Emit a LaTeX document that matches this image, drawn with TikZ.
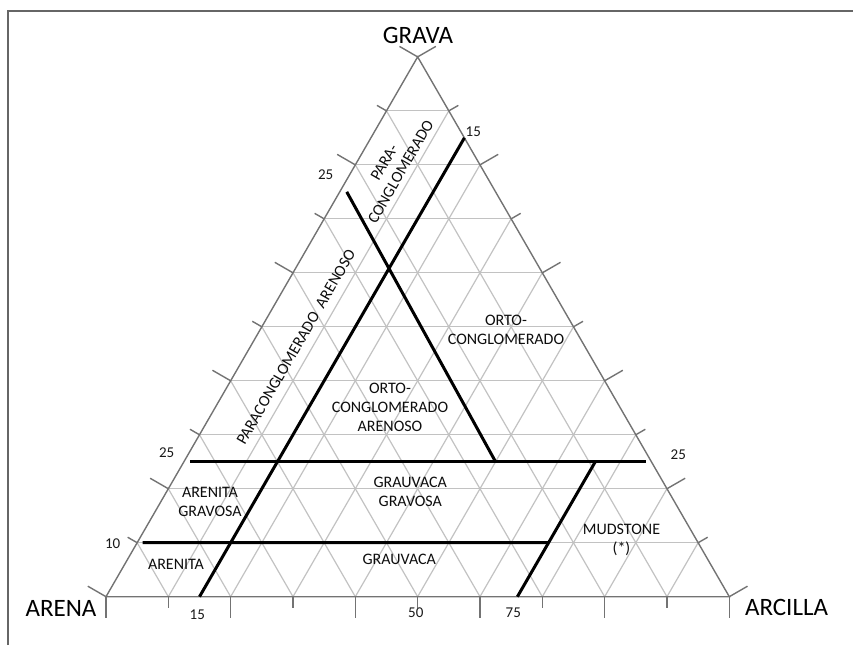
\documentclass[tikz,border=0pt]{standalone}
\usepackage{fontspec}
\setmainfont{Carlito}
\usetikzlibrary{calc}

\begin{document}
\begin{tikzpicture}
    [x=1pt, y=1pt,
    side/.style = {draw=black!55, line width=1.4pt},
    gridline/.style = {draw=black!24, line width=1.2pt},
    tick/.style = {draw=black!55, line width=1.4pt},
    limit/.style = {draw=black, line width=3pt},
    corner/.style = {font=\fontsize{25}{30}\selectfont, text=black},
    value/.style = {font=\fontsize{15}{18}\selectfont, text=black!90},
    field/.style = {font=\fontsize{16}{19}\selectfont, text=black!95, align=center}
    ]
    \useasboundingbox (0,0) rectangle (853,645);
    \draw [draw=black!60, line width=2pt] (7.7,0) -- (7.7,634.3) -- (853,634.3);

    \coordinate (A) at (106,48.3);
    \coordinate (B) at (729.3,48.3);
    \coordinate (C) at (417.65,588.1);

    \foreach \i in {1,...,9} {
        \draw [gridline] ($(A)!\i/10!(C)$) -- ($(B)!\i/10!(C)$);
        \draw [gridline] ($(A)!\i/10!(B)$) -- ($(B)!1-\i/10!(C)$);
        \draw [gridline] ($(A)!\i/10!(B)$) -- ($(A)!\i/10!(C)$);
    }
    \foreach \i [evaluate=\i as \len using {ifthenelse(mod(\i,2)==0,21,11)}] in {0,...,10} {
        \draw [tick] ($(A)!\i/10!(B)$) -- ++(0,-\len);
        \draw [tick] ($(A)!\i/10!(C)$) -- ++(150:\len);
        \draw [tick] ($(B)!\i/10!(C)$) -- ++(30:\len);
    }
    \draw [side] (A) -- (B) -- (C) -- cycle;

    \coordinate (ac10) at ($(A)!0.10!(C)$);
    \coordinate (ac25) at ($(A)!0.25!(C)$);
    \coordinate (bc25) at ($(B)!0.25!(C)$);
    \coordinate (ac75) at ($(A)!0.75!(C)$);
    \coordinate (ab15) at ($(A)!0.15!(B)$);
    \coordinate (ab66) at ($(A)!0.66!(B)$);
    \coordinate (ab75) at ($(A)!0.75!(B)$);
    \coordinate (bc85) at ($(B)!0.85!(C)$);
    \coordinate (ortoend) at ($(ac75)!2/3!(ab75)$);
    \coordinate (mud25) at ($(ac25)!0.88!(bc25)$);
    \coordinate (mud10) at ($(ab66)!0.4!(mud25)$);

    \draw [limit, shorten <=6pt, shorten >=5pt] (ac25) -- (bc25);
    \draw [limit, shorten <=5.5pt] (ac10) -- (mud10);
    \draw [limit] (ab66) -- (mud25);
    \draw [limit] (ab15) -- (bc85);
    \draw [limit] ($(ac75)+(7,0)$) -- (ortoend);

    \node (grava) [corner] at (418,609.5) {GRAVA};
    \node (arena) [corner] at (61,37) {ARENA};
    \node (arcilla) [corner] at (786.5,38) {ARCILLA};

    \node (top15) [value] at (473.3,513.3) {15};
    \node (top25) [value] at (325.7,470) {25};
    \node (left25) [value] at (166.7,192.7) {25};
    \node (left10) [value] at (112.7,101) {10};
    \node (right25) [value] at (678.3,190.7) {25};
    \node (base15) [value] at (197.3,30.7) {15};
    \node (base50) [value] at (415.8,32) {50};
    \node (base75) [value] at (513.3,32.3) {75};

    \node (para) [field, rotate=60] at (392.5,478) {PARA-\\CONGLOMERADO};
    \node (paraare) [field, rotate=60] at (296,298) {PARACONGLOMERADO\ \ ARENOSO};
    \node (ortocong) [field] at (506,315.3) {ORTO-\\CONGLOMERADO};
    \node (ortoare) [field] at (390,238) {ORTO-\\CONGLOMERADO\\ARENOSO};
    \node (grauvgrav) [field] at (410.3,153.3) {GRAUVACA\\GRAVOSA};
    \node (arengrav) [field] at (210,142.7) {ARENITA\\GRAVOSA};
    \node (arenita) [field] at (176,80.7) {ARENITA};
    \node (grauvaca) [field] at (399.3,85.7) {GRAUVACA};
    \node (mudstone) [field] at (621.5,105) {MUDSTONE\\(*)};
\end{tikzpicture}
\end{document}
